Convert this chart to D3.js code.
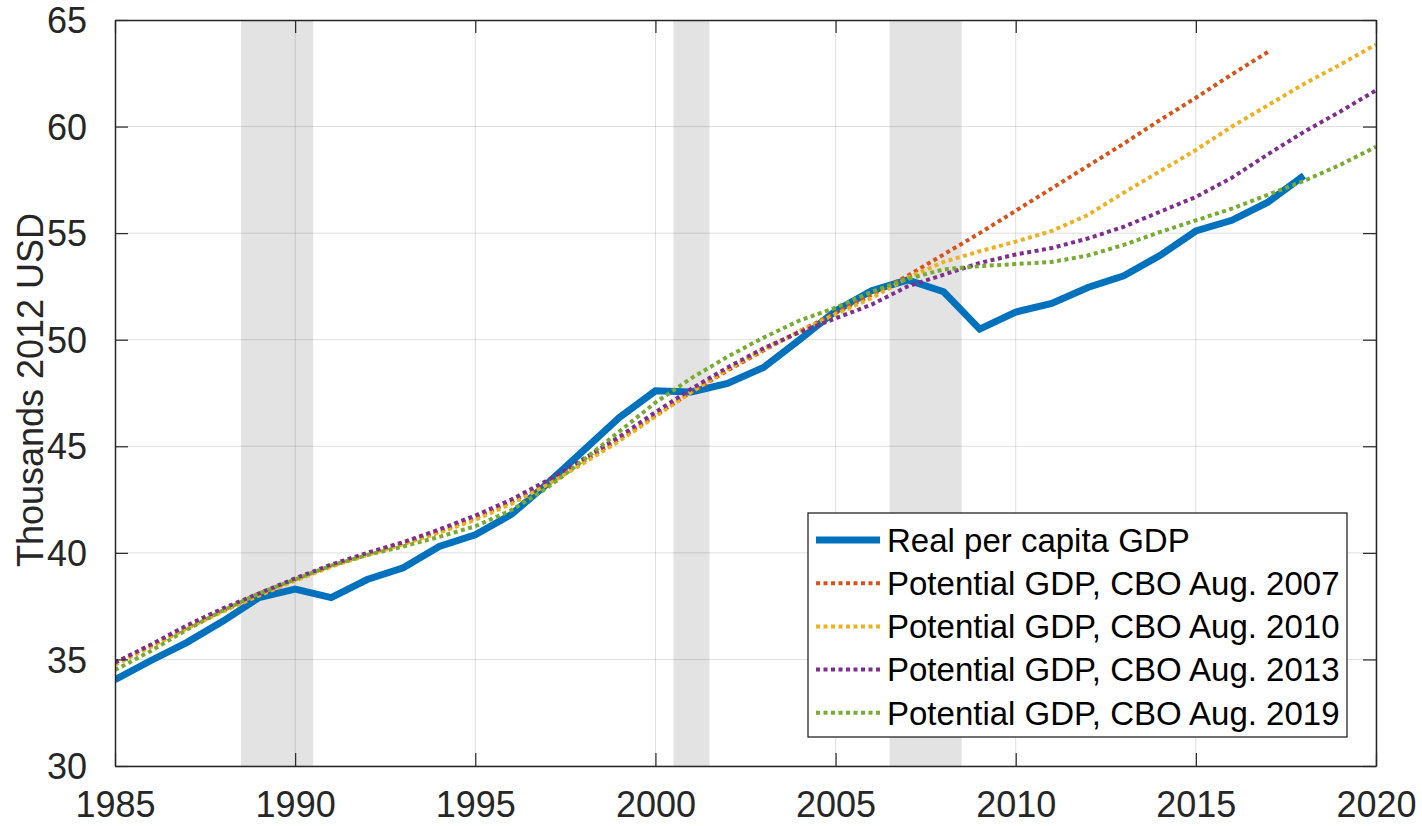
<!DOCTYPE html>
<html>
<head>
<meta charset="utf-8">
<script src="https://cdn.jsdelivr.net/npm/d3@7"></script>
<style>
  body { margin: 0; background: #fff; }
  text { font-family: "Liberation Sans", Arial, sans-serif; }
</style>
</head>
<body>
<script>
// real per capita GDP, thousands of 2012 USD, 1985-2018
const gdpYears = d3.range(1985, 2019)
const gdp = [34.05, 34.95, 35.8, 36.8, 37.9, 38.3, 37.9, 38.75, 39.3, 40.3,
  40.85, 41.8, 43.25, 44.8, 46.35, 47.6, 47.55, 47.95, 48.7, 50.0,
  51.35, 52.3, 52.8, 52.25, 50.5, 51.3, 51.7, 52.45, 53.0, 53.95,
  55.1, 55.6, 56.45, 57.7]

// CBO potential GDP vintages
const cbo2007Years = d3.range(1985, 2018)
const cbo2007 = [34.85, 35.65, 36.5, 37.3, 38.05, 38.75, 39.4, 39.95, 40.45, 41.0,
  41.65, 42.4, 43.3, 44.3, 45.35, 46.45, 47.55, 48.55, 49.5, 50.4,
  51.25, 52.1, 53.0, 54.0, 55.0, 56.05, 57.1, 58.15, 59.2, 60.3,
  61.35, 62.45, 63.5]

const cboYears = d3.range(1985, 2021)
const cbo2010 = [34.75, 35.6, 36.45, 37.25, 38.0, 38.7, 39.35, 39.9, 40.4, 40.95,
  41.55, 42.3, 43.2, 44.2, 45.25, 46.4, 47.55, 48.6, 49.55, 50.4,
  51.2, 51.95, 52.9, 53.65, 54.15, 54.6, 55.1, 55.85, 56.9, 57.9,
  58.9, 60.0, 61.0, 62.0, 62.9, 63.85]
const cbo2013 = [34.85, 35.7, 36.6, 37.4, 38.1, 38.8, 39.45, 40.0, 40.5, 41.1,
  41.75, 42.5, 43.4, 44.4, 45.45, 46.6, 47.7, 48.7, 49.6, 50.35,
  51.0, 51.65, 52.5, 53.05, 53.6, 54.0, 54.3, 54.75, 55.3, 56.0,
  56.7, 57.6, 58.7, 59.75, 60.7, 61.7]
const cbo2019 = [34.5, 35.4, 36.4, 37.3, 38.1, 38.75, 39.4, 39.9, 40.3, 40.75,
  41.25, 42.0, 43.05, 44.35, 45.7, 47.05, 48.2, 49.2, 50.1, 50.9,
  51.5, 52.25, 52.85, 53.3, 53.45, 53.55, 53.65, 53.95, 54.45, 55.05,
  55.6, 56.15, 56.8, 57.45, 58.2, 59.05]

// recession shading [start, end]
const recessions = [[1988.5, 1990.5], [2000.5, 2001.5], [2006.5, 2008.5]]

const xTicks = [1985, 1990, 1995, 2000, 2005, 2010, 2015, 2020]
const yTicks = [30, 35, 40, 45, 50, 55, 60, 65]

const seriesNames = ['Real per capita GDP', 'Potential GDP, CBO Aug. 2007',
  'Potential GDP, CBO Aug. 2010', 'Potential GDP, CBO Aug. 2013', 'Potential GDP, CBO Aug. 2019']
const colors = ['#0072BD', '#D95319', '#EDB120', '#7E2F8E', '#77AC30']

const width = 1422, height = 826
const m = { left: 115, right: 1376, top: 20, bottom: 766 }

const svg = d3.select('body').append('svg')
  .attr('width', width)
  .attr('height', height)

const x = d3.scaleLinear().domain([1985, 2020]).range([m.left, m.right])
const y = d3.scaleLinear().domain([30, 65]).range([m.bottom, m.top])

svg.append('clipPath').attr('id', 'plot')
  .append('rect')
  .attr('x', m.left).attr('y', m.top)
  .attr('width', m.right - m.left).attr('height', m.bottom - m.top)

const plot = svg.append('g').attr('clip-path', 'url(#plot)')

// shaded recessions
plot.selectAll('.rec').data(recessions).enter().append('rect')
  .attr('x', d => x(d[0]))
  .attr('width', d => x(d[1]) - x(d[0]))
  .attr('y', m.top)
  .attr('height', m.bottom - m.top)
  .attr('fill', '#e3e3e3')

// grid
plot.selectAll('.gx').data(xTicks).enter().append('line')
  .attr('x1', d => x(d)).attr('x2', d => x(d))
  .attr('y1', m.top).attr('y2', m.bottom)
  .attr('stroke', '#262626').attr('stroke-opacity', 0.15).attr('stroke-width', 1)
plot.selectAll('.gy').data(yTicks).enter().append('line')
  .attr('y1', d => y(d)).attr('y2', d => y(d))
  .attr('x1', m.left).attr('x2', m.right)
  .attr('stroke', '#262626').attr('stroke-opacity', 0.15).attr('stroke-width', 1)

const line = d3.line().x(d => x(d[0])).y(d => y(d[1]))
const zip = (xs, ys) => xs.map((v, i) => [v, ys[i]])

const potentials = [
  { data: zip(cbo2007Years, cbo2007), color: colors[1] },
  { data: zip(cboYears, cbo2010), color: colors[2] },
  { data: zip(cboYears, cbo2013), color: colors[3] },
  { data: zip(cboYears, cbo2019), color: colors[4] },
]

plot.append('path')
  .datum(zip(gdpYears, gdp))
  .attr('d', line)
  .attr('fill', 'none')
  .attr('stroke', colors[0])
  .attr('stroke-width', 7)
  .attr('stroke-linejoin', 'miter')

potentials.forEach(p => {
  plot.append('path')
    .datum(p.data)
    .attr('d', line)
    .attr('fill', 'none')
    .attr('stroke', p.color)
    .attr('stroke-width', 4)
    .attr('stroke-dasharray', '4,3.5')
})

// axes box with inward ticks on all sides
const axisColor = '#262626'
const tickLen = 13
const axisBottom = d3.axisBottom(x).tickValues(xTicks).tickFormat(d3.format('d')).tickSizeInner(-tickLen).tickSizeOuter(0).tickPadding(25)
const axisTop = d3.axisTop(x).tickValues(xTicks).tickFormat('').tickSizeInner(-tickLen).tickSizeOuter(0)
const axisLeft = d3.axisLeft(y).tickValues(yTicks).tickSizeInner(-tickLen).tickSizeOuter(0).tickPadding(28)
const axisRight = d3.axisRight(y).tickValues(yTicks).tickFormat('').tickSizeInner(-tickLen).tickSizeOuter(0)

const gB = svg.append('g').attr('transform', `translate(0,${m.bottom})`).call(axisBottom)
const gT = svg.append('g').attr('transform', `translate(0,${m.top})`).call(axisTop)
const gL = svg.append('g').attr('transform', `translate(${m.left},0)`).call(axisLeft)
const gR = svg.append('g').attr('transform', `translate(${m.right},0)`).call(axisRight)

;[gB, gT, gL, gR].forEach(g => {
  g.selectAll('path.domain').attr('stroke', axisColor).attr('stroke-width', 1.5)
  g.selectAll('.tick line').attr('stroke', axisColor).attr('stroke-width', 1.2)
  g.selectAll('.tick text').attr('fill', axisColor).style('font-size', '36px')
})
gB.selectAll('.tick text').attr('dy', '0.71em')
gL.selectAll('.tick text').attr('dy', '0.35em')

svg.append('text')
  .attr('transform', `translate(43,${(m.top + m.bottom) / 2 - 3}) rotate(-90)`)
  .attr('text-anchor', 'middle')
  .attr('fill', axisColor)
  .style('font-size', '36px')
  .text('Thousands 2012 USD')

// legend
const lg = { x: 808, y: 513, w: 539, h: 224 }
const legend = svg.append('g')
legend.append('rect')
  .attr('x', lg.x).attr('y', lg.y).attr('width', lg.w).attr('height', lg.h)
  .attr('fill', '#fff').attr('stroke', axisColor).attr('stroke-width', 1.3)

const rowY = i => lg.y + 27 + i * 43.2
seriesNames.forEach((name, i) => {
  const row = legend.append('g')
  row.append('line')
    .attr('x1', 816).attr('x2', 880)
    .attr('y1', rowY(i)).attr('y2', rowY(i))
    .attr('stroke', colors[i])
    .attr('stroke-width', i === 0 ? 7 : 4)
    .attr('stroke-dasharray', i === 0 ? null : '4,3.5')
  row.append('text')
    .attr('x', 887).attr('y', rowY(i))
    .attr('dy', '0.36em')
    .attr('fill', '#000')
    .style('font-size', '33px')
    .text(name)
})
</script>
</body>
</html>
